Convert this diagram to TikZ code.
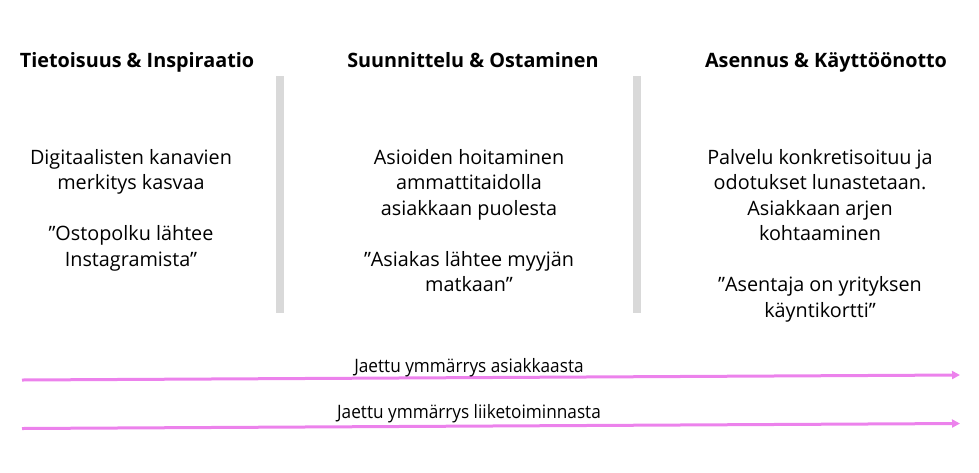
\documentclass[tikz,border=0pt]{standalone}
\usepackage{fontspec}
\setmainfont{Open Sans}
\newfontfamily\condfont[FakeStretch=0.93]{Open Sans}
\usetikzlibrary{arrows.meta}
\definecolor{arrowpink}{RGB}{236,130,236}
\definecolor{divgray}{RGB}{217,217,217}
\tikzset{
  heading/.style={font=\bfseries\fontsize{19.8}{24}\selectfont, anchor=base, inner sep=0pt},
  bodytext/.style={font=\fontsize{19.8}{25.5}\selectfont, align=center, anchor=north, inner sep=0pt},
  divider/.style={fill=divgray, draw=none},
  flowarrow/.style={draw=arrowpink, line width=3pt, -{Triangle[length=8pt,width=8pt]}},
  flowlabel/.style={font=\condfont\fontsize{18.5}{22}\selectfont, anchor=base, inner sep=0pt}
}
\begin{document}
\begin{tikzpicture}[x=1pt,y=-1pt]
\useasboundingbox (0,0) rectangle (979,472);
% headings
\node[heading] (h1) at (137,67) {Tietoisuus \& Inspiraatio};
\node[heading] (h2) at (473,67) {Suunnittelu \& Ostaminen};
\node[heading] (h3) at (826,67) {Asennus \& Käyttöönotto};
% dividers
\fill[divider] (276,76) rectangle (284,313);
\fill[divider] (633,76) rectangle (641,313);
% body texts
\node[bodytext] (b1) at (131,149) {Digitaalisten kanavien\\merkitys kasvaa\\[25.5pt]”Ostopolku lähtee\\Instagramista”};
\node[bodytext] (b2) at (469,149) {Asioiden hoitaminen\\ammattitaidolla\\asiakkaan puolesta\\[25.5pt]”Asiakas lähtee myyjän\\matkaan”};
\node[bodytext] (b3) at (820,149) {Palvelu konkretisoituu ja\\odotukset lunastetaan.\\Asiakkaan arjen\\kohtaaminen\\[25.5pt]”Asentaja on yrityksen\\käyntikortti”};
% arrows
\coordinate (a1s) at (22,380);
\coordinate (a1e) at (960,375);
\coordinate (a2s) at (22,428.5);
\coordinate (a2e) at (960,423.5);
\draw[flowarrow] (a1s) -- (a1e);
\draw[flowarrow] (a2s) -- (a2e);
\node[flowlabel] (l1) at (469,372) {Jaettu ymmärrys asiakkaasta};
\node[flowlabel] (l2) at (469,418) {Jaettu ymmärrys liiketoiminnasta};
\end{tikzpicture}
\end{document}
